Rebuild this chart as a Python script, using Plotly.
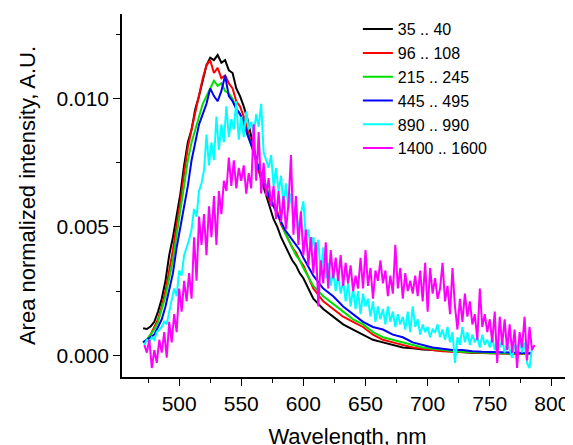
"""Area-normalized emission spectra for several ranges."""

import plotly.graph_objects as go

# Shared wavelength grid (nm) for the smoother spectra
WL_SMOOTH = [
    471, 474, 477, 480, 483, 486, 489, 492, 495, 498, 501, 504, 507, 510, 513,
    516, 519, 522, 525, 528, 531, 534, 537, 540, 543, 546, 549, 552, 555, 558,
    561, 564, 567, 570, 573, 576, 579, 582, 585, 588, 591, 594, 597, 600,
    608, 616, 624, 632, 640, 648, 656, 664, 672, 680, 688, 696, 704, 712, 720,
    728, 736, 744, 752, 760, 768, 776, 784,
]

# 35 .. 40
I_BLACK = [
    0.00105, 0.00102, 0.00112, 0.0013, 0.0017, 0.0022, 0.0029, 0.0039, 0.0046, 0.0054,
    0.0063, 0.0074, 0.0083, 0.0088, 0.0096, 0.0101, 0.0107, 0.0113, 0.0116, 0.0115,
    0.0117, 0.0114, 0.0115, 0.0111, 0.0110, 0.0104, 0.0101, 0.0097, 0.0092, 0.0085,
    0.0079, 0.0072, 0.0067, 0.0062, 0.0057, 0.0053, 0.0050, 0.0046, 0.0043, 0.0040,
    0.0037, 0.0035, 0.0032, 0.0030,
    0.0022, 0.0018, 0.0015, 0.0012, 0.0010, 0.0008, 0.0006, 0.0005, 0.0004, 0.0003,
    0.00027, 0.00022, 0.0002, 0.00017, 0.00014, 0.00012, 0.0001, 0.00009, 0.00008,
    0.00007, 0.00006, 0.00005, 0.00005,
]

# 96 .. 108
I_RED = [
    0.0005, 0.0006, 0.0008, 0.0011, 0.0014, 0.0019, 0.0025, 0.0033, 0.0041, 0.0051,
    0.0060, 0.0071, 0.0081, 0.0088, 0.0095, 0.0101, 0.0108, 0.0113, 0.0115, 0.0110,
    0.0112, 0.0108, 0.0109, 0.0106, 0.0104, 0.0099, 0.0097, 0.0093, 0.0088, 0.0082,
    0.0077, 0.0072, 0.0069, 0.0064, 0.0060, 0.0058, 0.0056, 0.0051, 0.0048, 0.0045,
    0.0042, 0.0040, 0.0037, 0.0035,
    0.0026, 0.0021, 0.0018, 0.0015, 0.0013, 0.0011, 0.0008, 0.0006, 0.0005, 0.0004,
    0.0003, 0.00025, 0.0002, 0.00015, 0.00013, 0.00011, 0.0001, 0.00009, 0.00008,
    0.00007, 0.00006, 0.00005, 0.00005,
]

# 215 .. 245
I_GREEN = [
    0.0005, 0.0006, 0.0008, 0.0010, 0.0013, 0.0018, 0.0023, 0.0030, 0.0037, 0.0047,
    0.0056, 0.0066, 0.0076, 0.0083, 0.0088, 0.0093, 0.0098, 0.0101, 0.0104, 0.0107,
    0.0105, 0.0106, 0.0103, 0.0102, 0.0100, 0.0096, 0.0094, 0.0090, 0.0086, 0.0082,
    0.0077, 0.0073, 0.0070, 0.0066, 0.0062, 0.0059, 0.0055, 0.0052, 0.0048, 0.0045,
    0.0042, 0.0039, 0.0037, 0.0034,
    0.0027, 0.0023, 0.0020, 0.0017, 0.0014, 0.0012, 0.0009, 0.0007, 0.0006, 0.0005,
    0.0004, 0.0003, 0.00025, 0.0002, 0.00016, 0.00013, 0.00011, 0.0001, 0.00009,
    0.00008, 0.00007, 0.00006, 0.00006,
]

# 445 .. 495
I_BLUE = [
    0.0005, 0.0006, 0.0007, 0.0008, 0.0011, 0.0014, 0.0019, 0.0025, 0.0032, 0.0042,
    0.0050, 0.0058, 0.0066, 0.0076, 0.0083, 0.0090, 0.0094, 0.0098, 0.0104, 0.0101,
    0.0099, 0.0103, 0.0109, 0.0101, 0.0099, 0.0096, 0.0094, 0.0091, 0.0086, 0.0082,
    0.0078, 0.0073, 0.0069, 0.0065, 0.0061, 0.0058, 0.0055, 0.0052, 0.0049, 0.0047,
    0.0045, 0.0043, 0.0041, 0.0038,
    0.0031, 0.0026, 0.0023, 0.0019, 0.0016, 0.0013, 0.0011, 0.0010, 0.0008, 0.0007,
    0.0005, 0.0004, 0.0003, 0.00025, 0.0002, 0.0002, 0.00015, 0.00013, 0.00012,
    0.0001, 0.0001, 0.0001, 0.00008,
]

# 890 .. 990 (noisy, 2 nm steps from 472 nm)
WL_CYAN = list(range(472, 786, 2))
I_CYAN = [
    0.0004, 0.0006, 0.0005, 0.0007, 0.0006, 0.0009, 0.0010, 0.0011, 0.0013, 0.0012,
    0.0017, 0.0021, 0.0026, 0.0023, 0.0033, 0.0031, 0.0039, 0.0042, 0.0045, 0.0049,
    0.0057, 0.0054, 0.0064, 0.0067, 0.0072, 0.0086, 0.0074, 0.0083, 0.0076, 0.0093,
    0.0080, 0.0090, 0.0083, 0.0097, 0.0085, 0.0092, 0.0088, 0.0099, 0.0084, 0.0093,
    0.0085, 0.0095, 0.0088, 0.0091, 0.0086, 0.0094, 0.0089, 0.0098, 0.0079, 0.0076,
    0.0073, 0.0078, 0.0066, 0.0073, 0.0064, 0.0070, 0.0058, 0.0067, 0.0057, 0.0063,
    0.0052, 0.0059, 0.0048, 0.0055, 0.0060, 0.0046, 0.0049, 0.0041, 0.0046, 0.0038,
    0.0045, 0.0031, 0.0042, 0.0030, 0.0036, 0.0027, 0.0033, 0.0025, 0.0031, 0.0024,
    0.0029, 0.0021, 0.0028, 0.0019, 0.0026, 0.0018, 0.0025, 0.0016, 0.0024, 0.0019,
    0.0022, 0.0015, 0.0021, 0.0013, 0.0019, 0.0014, 0.0018, 0.0012, 0.0019, 0.0013,
    0.0017, 0.0011, 0.0016, 0.0012, 0.0015, 0.0010, 0.0017, 0.0009, 0.0019, 0.0011,
    0.0014, 0.0008, 0.0012, 0.0009, 0.0011, 0.0007, 0.0010, 0.0009, 0.0012, 0.0007,
    0.0010, 0.0006, 0.0011, 0.0005, 0.0009, -0.0003, 0.0007, 0.0004, 0.0011, 0.0005,
    0.0009, 0.0004, 0.0008, 0.0005, 0.0007, 0.0003, 0.0008, 0.0004, 0.0006, 0.0003,
    0.0007, 0.0002, 0.0006, 0.0003, 0.0006, 0.0001, 0.0005, 0.0002, -0.0001, 0.0004,
    0.0003, 0.0006, 0.0001, 0.0005, -0.0003, -0.0005, 0.0003,
]

# 1400 .. 1600 (noisy, 2 nm steps from 472 nm)
WL_MAGENTA = list(range(472, 788, 2))
I_MAGENTA = [
    0.0004, 0.0001, 0.0006, -0.0005, 0.0002, -0.0003, 0.0006, 0.0001, 0.0009, -0.0001,
    0.0013, 0.0005, 0.0016, 0.0009, 0.0026, 0.0017, 0.0029, 0.0021, 0.0032, 0.0022,
    0.0046, 0.0029, 0.0054, 0.0043, 0.0055, 0.0039, 0.0058, 0.0046, 0.0062, 0.0043,
    0.0064, 0.0055, 0.0068, 0.0064, 0.0077, 0.0066, 0.0076, 0.0065, 0.0073, 0.0068,
    0.0074, 0.0063, 0.0071, 0.0065, 0.0090, 0.0068, 0.0087, 0.0063, 0.0075, 0.0062,
    0.0069, 0.0058, 0.0066, 0.0053, 0.0064, 0.0052, 0.0062, 0.0049, 0.0059, 0.0078,
    0.0047, 0.0062, 0.0043, 0.0056, 0.0039, 0.0049, 0.0035, 0.0046, 0.0032, 0.0044,
    0.0019, 0.0037, 0.0028, 0.0044, 0.0026, 0.0041, 0.0030, 0.0038, 0.0029, 0.0039,
    0.0027, 0.0036, 0.0028, 0.0035, 0.0025, 0.0031, 0.0026, 0.0038, 0.0026, 0.0041,
    0.0027, 0.0034, 0.0022, 0.0033, 0.0029, 0.0037, 0.0028, 0.0033, 0.0023, 0.0031,
    0.0024, 0.0043, 0.0026, 0.0034, 0.0022, 0.0032, 0.0025, 0.0029, 0.0024, 0.0031,
    0.0023, 0.0033, 0.0021, 0.0036, 0.0017, 0.0034, 0.0024, 0.0030, 0.0022, 0.0026,
    0.0036, 0.0021, 0.0027, 0.0016, 0.0034, 0.0019, 0.0010, 0.0022, 0.0013, 0.0024,
    0.0015, 0.0021, 0.0012, 0.0016, 0.0006, 0.0026, 0.0011, 0.0016, 0.0009, 0.0014,
    0.0005, 0.0017, -0.0003, 0.0015, 0.0004, 0.0014, 0.0002, 0.0012, 0.0001, 0.0010,
    -0.0005, 0.0009, 0.0003, 0.0015, -0.0002, 0.0011, 0.0002, 0.0004,
]

SERIES = [
    ("35 .. 40", WL_SMOOTH, I_BLACK, "#000000"),
    ("96 .. 108", WL_SMOOTH, I_RED, "#ff0000"),
    ("215 .. 245", WL_SMOOTH, I_GREEN, "#00e000"),
    ("445 .. 495", WL_SMOOTH, I_BLUE, "#0000ff"),
    ("890 .. 990", WL_CYAN, I_CYAN, "#00ffff"),
    ("1400 .. 1600", WL_MAGENTA, I_MAGENTA, "#ff00ff"),
]

FONT = "Liberation Sans, Arial, sans-serif"

fig = go.Figure()
for name, wl, inten, color in SERIES:
    fig.add_trace(
        go.Scatter(
            x=wl,
            y=inten,
            mode="lines",
            name=name,
            line=dict(color=color, width=2),
        )
    )

# the page body adds an 8 px offset, margins compensate for it
fig.update_layout(
    width=573,
    height=445,
    margin=dict(l=114, r=8, t=4, b=76),
    plot_bgcolor="white",
    paper_bgcolor="white",
    font=dict(family=FONT, size=21, color="black"),
    showlegend=True,
    legend=dict(
        x=0.523,
        y=1.005,
        xanchor="left",
        yanchor="top",
        font=dict(size=16),
        bgcolor="rgba(0,0,0,0)",
        tracegroupgap=0,
    ),
)

fig.update_xaxes(
    automargin=False,
    range=[454, 817],
    tick0=0,
    dtick=50,
    ticks="outside",
    ticklen=7,
    tickwidth=1.3,
    tickcolor="black",
    minor=dict(dtick=25, ticks="outside", ticklen=4, tickwidth=1.3, tickcolor="black"),
    showline=True,
    linecolor="black",
    linewidth=1.5,
    showgrid=False,
    zeroline=False,
    title=dict(text="Wavelength, nm", font=dict(size=22)),
)

fig.update_yaxes(
    automargin=False,
    range=[-0.00085, 0.0133],
    tick0=0,
    dtick=0.005,
    tickformat=".3f",
    ticks="outside",
    ticklen=7,
    tickwidth=1.3,
    tickcolor="black",
    minor=dict(dtick=0.0025, ticks="outside", ticklen=4, tickwidth=1.3, tickcolor="black"),
    showline=True,
    linecolor="black",
    linewidth=1.5,
    showgrid=False,
    zeroline=False,
    title=dict(text="Area normalized intensity, A.U.", font=dict(size=22)),
)

fig.write_html("out.html")
